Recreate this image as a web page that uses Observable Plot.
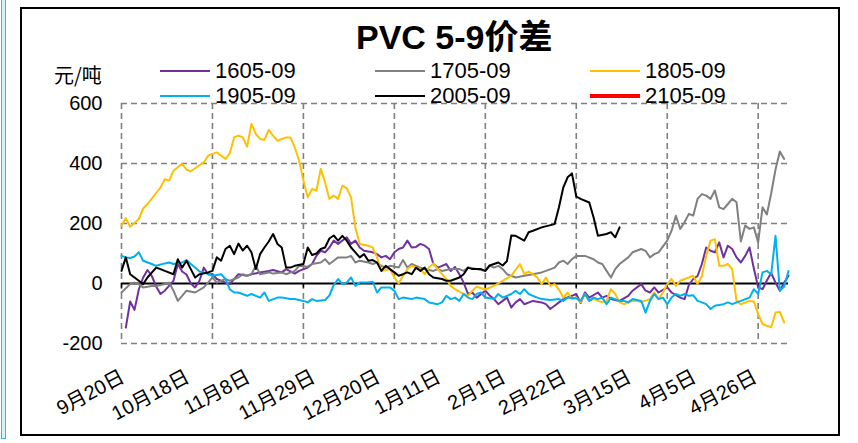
<!DOCTYPE html>
<html><head><meta charset="utf-8">
<script src="https://cdn.jsdelivr.net/npm/d3@7"></script>
<script src="https://cdn.jsdelivr.net/npm/@observablehq/plot@0.6"></script>
<style>
html,body{margin:0;padding:0;background:#fff;}
#wrap{position:relative;width:858px;height:443px;overflow:hidden;font-family:"Liberation Sans","Noto Sans CJK SC",sans-serif;color:#000;}
#wrap svg{position:absolute;left:0;top:0;}
.frame{position:absolute;left:20px;top:7px;width:816px;height:425px;border:2px solid #000;box-sizing:content-box;pointer-events:none;}
.cyanedge{position:absolute;left:1px;top:-4px;width:3px;height:441px;border:1px solid #33b5ec;background:#d6f1fc;}
.title{position:absolute;left:356px;top:20px;line-height:34px;white-space:nowrap;font-size:34px;font-weight:bold;font-family:"Liberation Sans","Noto Sans CJK SC",sans-serif;}
.unit{position:absolute;left:54px;top:63px;line-height:24px;font-size:20px;font-family:"Noto Sans CJK SC",sans-serif;}
.leg{position:absolute;display:flex;align-items:center;font-size:22px;line-height:24px;height:24px;white-space:nowrap;}
.leg i{display:inline-block;width:50px;margin-right:5px;}
</style></head>
<body>
<div id="wrap"></div>
<script>
// ---- data (x = trading-day index, y = spread in 元/吨) ----
const xTickIdx = [0, 15, 29, 44, 59, 73, 88, 102, 117, 132, 146];
const xTickLabels = ["9月20日","10月18日","11月8日","11月29日","12月20日","1月11日","2月1日","2月22日","3月15日","4月5日","4月26日"];
const gridIdx = [0, 21, 42, 63, 84, 105, 126, 147];
const yTicks = [-200, 0, 200, 400, 600];
const seriesNames = ["1605-09","1705-09","1805-09","1905-09","2005-09","2105-09"];
const seriesColors = ["#7030a0","#808080","#ffc000","#00b0f0","#000000","#ff0000"];

const s1605 = [[1,-147],[2,-60],[3,-88],[4,-20],[5,20],[6,45],[7,25],[8,-10],[9,-35],[10,-24],[12,9],[13,65],[14,40],[15,30],[16,0],[17,-13],[18,9],[19,53],[20,31],[21,31],[22,15],[24,3],[25,-2],[27,31],[29,26],[30,31],[32,37],[34,42],[35,45],[37,37],[38,48],[40,33],[41,42],[43,53],[44,65],[45,92],[46,109],[47,104],[48,120],[49,143],[50,132],[52,154],[53,132],[54,143],[55,120],[56,109],[58,104],[59,98],[60,87],[61,92],[62,81],[63,104],[64,115],[65,120],[66,143],[67,120],[68,122],[69,132],[70,126],[71,115],[72,65],[73,53],[74,59],[75,65],[76,42],[77,55],[78,31],[79,3],[80,-35],[81,-30],[82,-47],[84,-24],[85,-40],[86,-52],[87,-69],[88,-58],[89,-47],[90,-80],[91,-63],[92,-52],[93,-69],[95,-58],[97,-63],[98,-69],[99,-85],[100,-74],[101,-63],[102,-52],[104,-41],[105,-35],[106,-65],[107,-30],[108,-47],[110,-30],[111,-47],[112,-41],[113,-52],[115,-58],[117,-41],[118,-24],[120,-2],[121,-24],[122,-30],[123,-13],[124,-30],[126,-13],[127,-30],[129,-47],[130,-52],[131,-5],[132,15],[133,25],[134,65],[135,120],[136,109],[137,104],[138,137],[139,87],[140,126],[141,115],[142,87],[143,70],[144,92],[145,120],[146,50],[147,-13],[148,-19],[149,10],[150,35],[151,3],[152,-24],[153,3],[154,26]];
const s1705 = [[0,-30],[2,-2],[3,3],[4,-2],[5,-13],[7,-8],[8,-8],[10,-2],[11,3],[12,-24],[13,-58],[14,-41],[15,-24],[17,-30],[19,-13],[20,3],[21,20],[22,3],[24,15],[25,9],[27,20],[28,31],[29,26],[30,31],[31,59],[32,31],[34,37],[35,33],[37,37],[38,31],[40,42],[41,59],[43,56],[44,65],[46,70],[47,81],[48,65],[49,76],[50,87],[52,87],[53,92],[54,70],[55,76],[57,70],[58,65],[59,70],[60,59],[61,53],[62,59],[64,53],[65,78],[66,53],[67,65],[68,59],[69,53],[70,48],[72,42],[73,48],[74,42],[76,48],[78,48],[79,42],[80,53],[82,48],[84,42],[85,60],[86,53],[87,59],[88,48],[89,31],[91,20],[93,26],[95,31],[97,37],[98,42],[100,53],[101,70],[102,76],[103,65],[104,81],[105,92],[107,92],[109,81],[110,70],[111,65],[112,42],[113,20],[114,48],[115,65],[117,87],[118,104],[120,115],[121,109],[122,87],[123,98],[124,104],[126,143],[127,176],[128,226],[129,182],[130,204],[131,232],[132,226],[133,282],[134,298],[135,293],[136,282],[137,310],[138,254],[139,248],[140,265],[141,282],[142,271],[143,140],[144,193],[145,182],[146,187],[147,137],[148,254],[149,230],[150,300],[151,380],[152,440],[153,415]];
const s1805 = [[0,193],[1,218],[2,189],[4,215],[5,250],[6,265],[9,320],[10,348],[11,343],[12,376],[14,399],[15,380],[16,374],[19,404],[20,426],[21,432],[22,437],[24,415],[25,434],[26,487],[27,493],[28,487],[29,456],[30,532],[31,499],[32,482],[33,479],[34,512],[35,493],[36,476],[38,487],[39,487],[40,454],[41,410],[42,343],[43,287],[44,315],[45,310],[46,382],[47,337],[48,282],[49,293],[50,282],[51,326],[52,318],[53,287],[54,187],[55,132],[57,126],[58,120],[59,87],[60,42],[62,48],[63,20],[64,0],[65,26],[66,48],[67,59],[69,48],[70,31],[71,53],[72,67],[73,48],[74,31],[75,15],[76,-8],[77,-19],[79,-35],[80,-41],[81,-24],[82,-11],[84,-20],[86,-8],[88,9],[90,26],[92,65],[93,31],[94,40],[95,31],[96,20],[97,-2],[98,20],[99,-8],[100,-2],[101,-20],[102,-47],[103,-30],[104,-52],[105,-47],[106,-63],[107,-35],[108,-58],[109,-52],[111,-63],[112,-58],[113,-19],[114,-35],[115,-63],[116,-69],[118,-58],[119,-58],[120,-62],[122,-52],[123,-30],[124,-52],[125,-30],[126,-2],[127,15],[128,-8],[129,9],[131,20],[132,26],[133,-2],[134,25],[135,92],[136,143],[137,148],[138,59],[139,59],[140,65],[141,48],[142,-58],[143,-69],[145,-58],[146,-60],[147,-102],[148,-135],[149,-141],[150,-146],[151,-97],[152,-95],[153,-130]];
const s1905 = [[0,92],[1,87],[2,85],[3,90],[4,104],[5,76],[7,65],[8,59],[10,67],[11,70],[12,65],[14,70],[15,78],[16,65],[17,53],[18,40],[19,37],[20,31],[21,26],[23,31],[24,15],[25,-19],[26,-30],[27,-30],[29,-41],[30,-35],[32,-47],[33,-30],[34,-58],[36,-47],[37,-47],[39,-52],[40,-52],[42,-58],[43,-63],[44,-52],[45,-58],[47,-55],[48,-40],[49,-5],[50,15],[51,-2],[52,3],[53,20],[54,-8],[55,3],[57,3],[58,6],[59,-30],[60,-13],[62,-13],[63,-24],[64,-52],[65,-47],[67,-52],[68,-47],[70,-52],[71,-63],[73,-69],[74,-63],[75,-41],[76,-52],[77,-47],[78,-58],[79,-35],[80,-47],[81,-52],[82,-35],[83,-30],[84,-47],[86,-52],[87,-35],[88,-47],[90,-35],[91,-24],[92,-35],[93,-19],[94,-35],[95,-41],[96,-47],[97,-52],[99,-55],[101,-52],[102,-58],[103,-47],[105,-50],[106,-58],[107,-35],[108,-58],[109,-47],[110,-52],[111,-47],[112,-69],[113,-47],[115,-58],[116,-58],[117,-63],[118,-52],[120,-58],[121,-97],[122,-58],[123,-35],[124,-52],[125,-47],[126,-69],[127,-47],[128,-35],[129,-41],[130,-35],[131,-41],[132,-39],[133,-58],[134,-63],[135,-69],[136,-85],[137,-74],[139,-69],[140,-63],[141,-69],[142,-63],[143,-58],[145,-47],[146,-19],[147,-35],[148,37],[149,42],[150,31],[151,159],[152,-24],[153,-10],[154,42]];
const s2005 = [[0,42],[1,87],[2,31],[3,20],[4,9],[5,-2],[6,20],[8,53],[9,48],[10,42],[12,31],[13,81],[14,53],[15,76],[16,48],[17,20],[18,31],[20,37],[21,42],[22,87],[23,76],[24,115],[25,126],[26,98],[27,133],[28,110],[29,126],[30,104],[31,48],[32,98],[33,120],[34,140],[35,165],[36,132],[37,120],[38,53],[39,53],[40,59],[42,65],[43,120],[44,95],[45,100],[46,115],[47,120],[48,150],[49,160],[50,143],[51,159],[52,143],[53,120],[54,104],[55,87],[56,98],[57,76],[58,78],[59,70],[60,42],[61,59],[62,48],[63,37],[64,26],[65,31],[66,37],[67,31],[68,53],[69,42],[70,53],[71,31],[72,20],[74,15],[75,9],[76,9],[78,20],[79,31],[80,53],[81,48],[83,48],[84,42],[85,60],[86,65],[87,70],[88,60],[89,75],[90,160],[91,159],[93,143],[94,171],[95,176],[97,187],[100,198],[101,254],[102,320],[103,354],[104,367],[105,290],[106,282],[108,270],[109,220],[110,159],[112,165],[113,171],[114,154],[115,187]];
const s2105 = [];

const allSeries = [s1605, s1705, s1805, s1905, s2005, s2105];
const table = allSeries.flatMap((arr, k) => arr.map(([i, v]) => ({i, v, name: seriesNames[k]})));

const wrap = document.getElementById("wrap");
const fontStack = '"Liberation Sans","Noto Sans CJK SC",sans-serif';

const chart = Plot.plot({
  width: 858, height: 443,
  marginLeft: 121, marginRight: 70, marginTop: 103, marginBottom: 100,
  x: {domain: [0, 154], axis: null},
  y: {domain: [-200, 600], axis: null},
  style: {fontFamily: fontStack, background: "transparent", color: "#000", overflow: "visible"},
  marks: [
    Plot.ruleY(yTicks.filter(d => d !== 0), {stroke: "#808080", strokeWidth: 1.6, strokeDasharray: "6,4"}),
    Plot.ruleX(gridIdx, {stroke: "#808080", strokeWidth: 1.6, strokeDasharray: "6,4"}),
    Plot.ruleX(gridIdx, {y1: 0, y2: -16, stroke: "#000", strokeWidth: 1.5}),
    Plot.ruleY([0], {stroke: "#000", strokeWidth: 2}),
    ...seriesNames.map((n, k) => Plot.line(table.filter(d => d.name === n), {
      x: "i", y: "v", stroke: seriesColors[k], strokeWidth: 2, strokeLinejoin: "round"
    })),
    Plot.axisY(yTicks, {label: null, tickSize: 0, tickPadding: 19, fontSize: 20, tickFormat: d => String(d)}),
    Plot.text(xTickIdx, {
      x: d => d, frameAnchor: "bottom", text: (d, j) => xTickLabels[j],
      rotate: -28, textAnchor: "end", lineAnchor: "middle",
      dy: 32, dx: 1.5, fontSize: 20
    })
  ]
});
wrap.appendChild(chart);

const add = (cls, html, css) => { const d = document.createElement("div"); d.className = cls; d.innerHTML = html; if (css) Object.assign(d.style, css); wrap.appendChild(d); return d; };
add("cyanedge", "");
add("frame", "");
add("title", "PVC 5-9价差");
add("unit", "元/吨");
const legPos = [[160, 59], [375, 59], [590, 59], [160, 84], [375, 84], [590, 84]];
seriesNames.forEach((n, k) => {
  const thick = k === 5 ? 4 : 2.5;
  add("leg", `<i style="height:${thick}px;background:${seriesColors[k]}"></i><span>${n}</span>`,
      {left: legPos[k][0] + "px", top: legPos[k][1] + "px"});
});
</script>
</body></html>
